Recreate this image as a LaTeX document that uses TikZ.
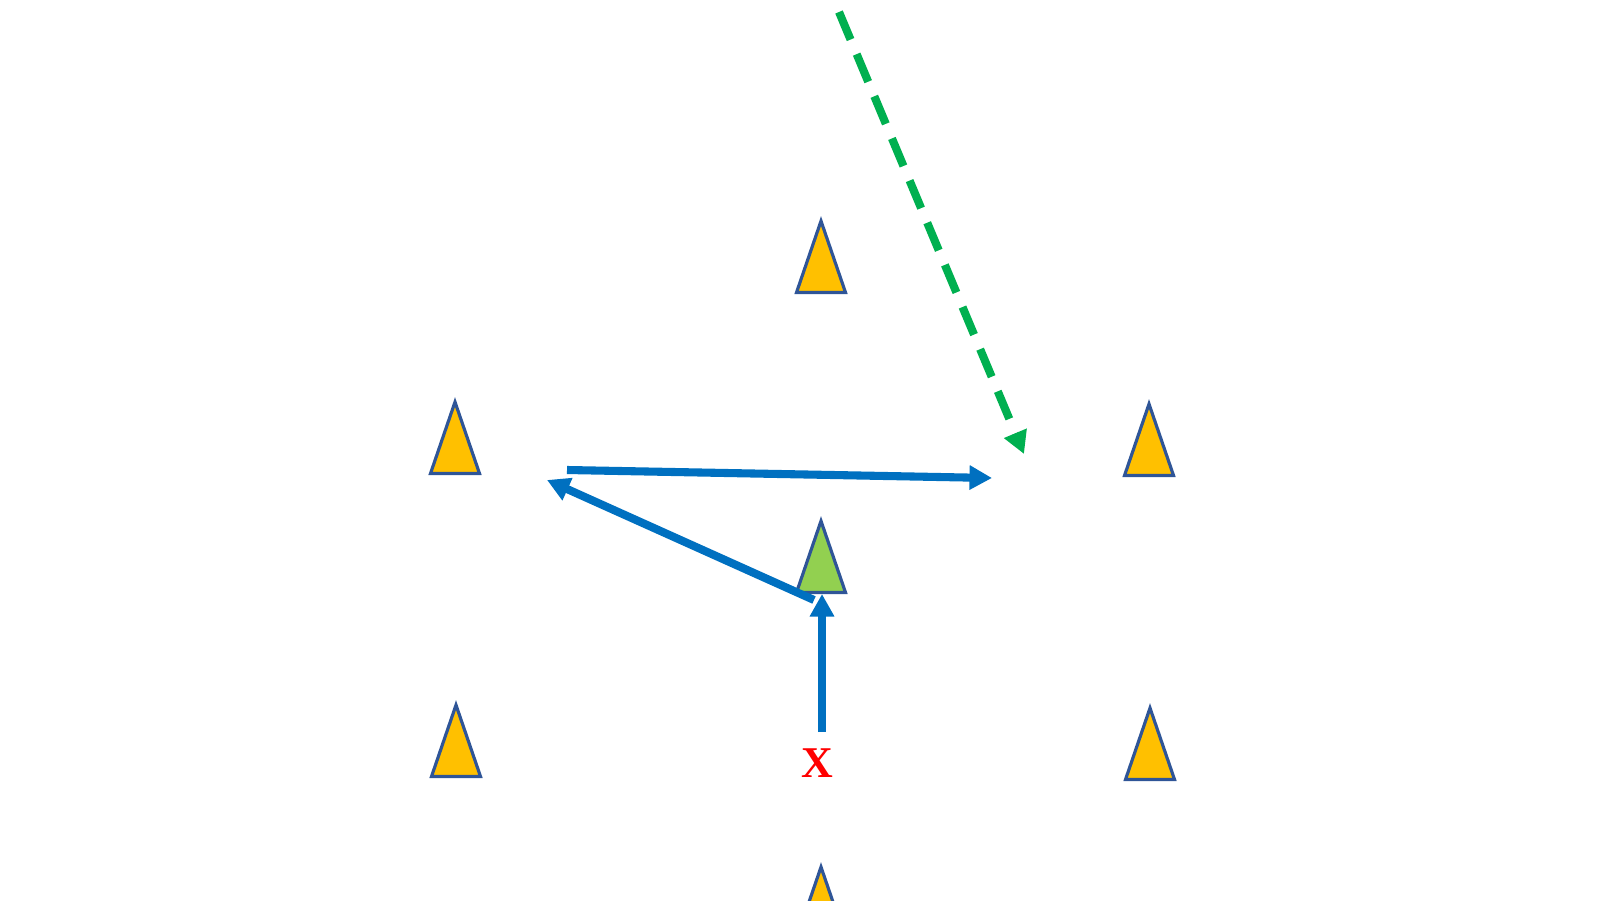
\documentclass[tikz,border=0pt]{standalone}
\usepackage{fontspec}
\setmainfont{Liberation Serif}
\usepackage{tikz}
\usetikzlibrary{arrows.meta, shapes.geometric}

\definecolor{coneYellow}{HTML}{FFC000}
\definecolor{coneGreen}{HTML}{92D050}
\definecolor{coneEdge}{HTML}{2F5597}
\definecolor{runBlue}{HTML}{0070C0}
\definecolor{passGreen}{HTML}{00B050}

\begin{document}
\begin{tikzpicture}[
cone/.style={isosceles triangle, shape border rotate=90, draw=coneEdge,
line width=0.9pt, fill=coneYellow, isosceles triangle stretches,
minimum width=0.49cm, minimum height=0.715cm, inner sep=0pt, outer sep=0pt,
anchor=apex},
%
keycone/.style={cone, fill=coneGreen},
%
run/.style={draw=runBlue, line width=2.3pt, -{Triangle[length=6.4pt,width=6.6pt]}},
%
pass/.style={draw=passGreen, line width=2.3pt, dash pattern=on 8.5pt off 4.5pt,
-{Triangle[length=6.4pt,width=6.6pt]}}]

\useasboundingbox (0,0) rectangle (16,9);
\clip (0,0) rectangle (16,9);

%%%%%%%%%%%%%%%%%%%%%%%%%%%%%%
\node [cone] (coneTop) at (8.21,6.79) {};
\node [cone] (coneMidL) at (4.55,4.98) {};
\node [cone] (coneMidR) at (11.49,4.96) {};
\node [keycone] (coneCentre) at (8.21,3.79) {};
\node [cone] (coneLowL) at (4.56,1.95) {};
\node [cone] (coneLowR) at (11.50,1.92) {};
\node [cone] (coneBottom) at (8.21,0.33) {};
%%%%%%%%%%%%%%%%%%%%%%%%%%%%%%
\node [text=red, font=\fontsize{12.5}{15}\selectfont\bfseries, inner sep=0pt] (start) at (8.17,1.37) {X};

\coordinate (runStart) at (8.22,1.68);
\coordinate (runTurn) at (8.22,3.06);
\coordinate (cutStart) at (8.14,3.00);
\coordinate (cutEnd) at (5.47,4.20);
\coordinate (crossStart) at (5.67,4.30);
\coordinate (crossEnd) at (9.92,4.22);
\coordinate (passStart) at (8.39,8.88);
\coordinate (passEnd) at (10.24,4.46);

%%%%%%%%%%%%%%%%%%%%%%%%%%%%%%
\draw [run] (runStart) -- (runTurn);
\draw [run] (cutStart) -- (cutEnd);
\draw [run] (crossStart) -- (crossEnd);
\draw [pass] (passStart) -- (passEnd);

\end{tikzpicture}
\end{document}
